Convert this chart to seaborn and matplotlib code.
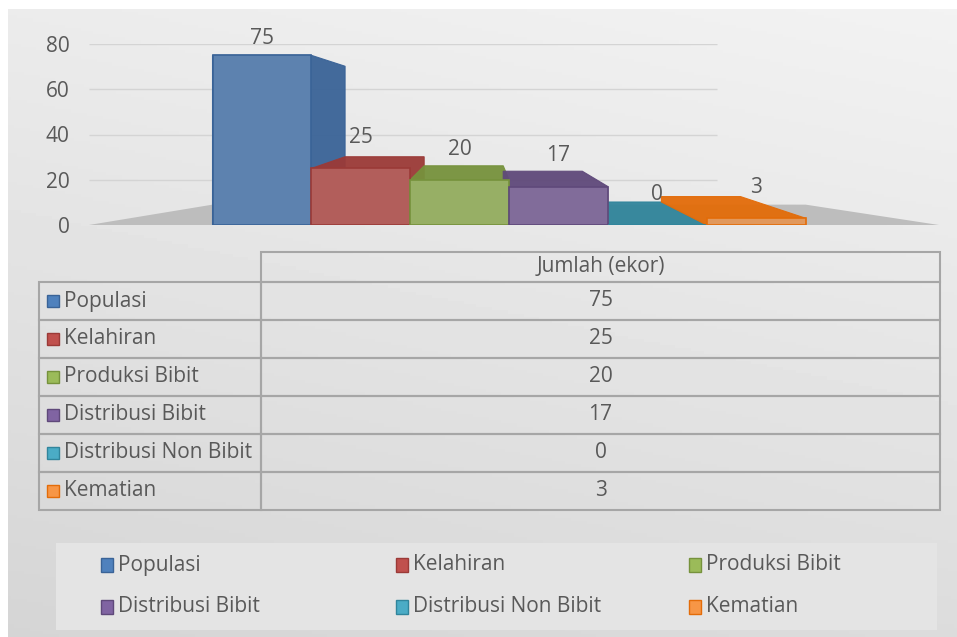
import numpy as np
import pandas as pd
import matplotlib
matplotlib.use("Agg")
import matplotlib.pyplot as plt
import seaborn as sns
from matplotlib.patches import Rectangle, Polygon

categories = ["Populasi", "Kelahiran", "Produksi Bibit", "Distribusi Bibit",
              "Distribusi Non Bibit", "Kematian"]
values = [75, 25, 20, 17, 0, 3]
column_header = "Jumlah (ekor)"
y_ticks = [0, 20, 40, 60, 80]
colors = ["#4f81bd", "#c0504d", "#9bbb59", "#8064a2", "#4bacc6", "#f79646"]
edge_colors = ["#3a6397", "#9b3a37", "#76923c", "#5f497a", "#31859c", "#e36c09"]

sns.set_theme(style="white")
plt.rcParams["font.family"] = ["Open Sans", "DejaVu Sans"]
TXT = "#595959"
FS = 15

W, H = 957, 637
fig = plt.figure(figsize=(W / 100, H / 100), dpi=100)
fig.patch.set_facecolor("white")

def px(x0, y0, x1, y1):
    return [x0 / W, 1 - y1 / H, (x1 - x0) / W, (y1 - y0) / H]

def hull(points):
    pts = sorted(set(map(tuple, points)))
    if len(pts) <= 2:
        return pts
    def cross(o, a, b):
        return (a[0] - o[0]) * (b[1] - o[1]) - (a[1] - o[1]) * (b[0] - o[0])
    lower, upper = [], []
    for p in pts:
        while len(lower) >= 2 and cross(lower[-2], lower[-1], p) <= 0:
            lower.pop()
        lower.append(p)
    for p in reversed(pts):
        while len(upper) >= 2 and cross(upper[-2], upper[-1], p) <= 0:
            upper.pop()
        upper.append(p)
    return lower[:-1] + upper[:-1]

# background with soft gradient
bg = fig.add_axes(px(8, 9, 957, 637))
yy, xx = np.mgrid[0:1:200j, 0:1:300j]
grad = 0.95 - 0.11 * (yy * 0.8 + (1 - xx) * 0.25)
bg.imshow(grad, cmap="gray", vmin=0, vmax=1, aspect="auto", extent=[0, 1, 0, 1])
bg.set_xlim(0, 1); bg.set_ylim(0, 1)
bg.axis("off")

# bar chart
df = pd.DataFrame({"cat": categories, "val": values})
ax = fig.add_axes(px(85, 44, 940, 225))
ax.set_facecolor("none")
ax.patch.set_alpha(0)
ax.set_xlim(-1.79, 6.86)
ax.set_ylim(0, 80)
# floor
ax.add_patch(Polygon([(-1.75, 0), (6.85, 0), (5.5, 9), (-0.5, 9)], closed=True,
                     facecolor="#bdbdbd", edgecolor="none", zorder=0))
sns.barplot(data=df, x="cat", y="val", hue="cat", palette=colors, width=1.0,
            legend=False, ax=ax, zorder=3)
ax.set_xlim(-1.79, 6.86)
ax.set_ylim(0, 80)
bars = ax.patches[-len(categories):]

# pseudo-3D depth toward a vanishing point (display pixels)
vp = np.array([480.0, H - 110.0])
k = 0.2
to_disp = ax.transData
to_data = ax.transData.inverted()
for p, ec in zip(bars, edge_colors):
    p.set_edgecolor(ec)
    p.set_linewidth(1.2)
    x0, w, h = p.get_x(), p.get_width(), p.get_height()
    front = np.array([[x0, 0], [x0 + w, 0], [x0 + w, h], [x0, h]])
    fd = to_disp.transform(front)
    bd = fd + k * (vp - fd)
    hd = np.array(hull(np.vstack([fd, bd])))
    poly = to_data.transform(hd)
    ax.add_patch(Polygon(poly, closed=True, facecolor=ec, edgecolor=ec,
                         lw=0.8, alpha=0.95, zorder=2))

for p, v in zip(bars, values):
    ax.annotate(str(v), (p.get_x() + p.get_width() / 2, v),
                xytext=(0, 12 if v > 50 else 22),
                textcoords="offset points", ha="center", va="center",
                fontsize=FS, color=TXT)
ax.hlines([20, 40, 60, 80], -1.75, 4.6, color="#d4d4d4", lw=1, zorder=1)
ax.set_yticks(y_ticks)
ax.set_yticklabels([str(t) for t in y_ticks], fontsize=FS, color=TXT)
ax.tick_params(axis="y", length=0, pad=11)
ax.set_xticks([])
ax.set_xlabel(""); ax.set_ylabel("")
for s in ax.spines.values():
    s.set_visible(False)

# data table
tab = fig.add_axes(px(0, 0, W, H))
tab.set_xlim(0, W); tab.set_ylim(H, 0)
tab.axis("off")
line_c = "#a6a6a6"
x_left, x_mid, x_right = 39, 261, 940
y_top = 252
head_h = 30
row_h = 38
# header cell
tab.add_patch(Rectangle((x_mid, y_top), x_right - x_mid, head_h, fill=False,
                        edgecolor=line_c, lw=1.5))
tab.text((x_mid + x_right) / 2, y_top + head_h / 2, column_header, ha="center",
         va="center", fontsize=FS, color=TXT)
for k_, (c, v, col, ec) in enumerate(zip(categories, values, colors, edge_colors)):
    y0 = y_top + head_h + row_h * k_
    tab.add_patch(Rectangle((x_left, y0), x_mid - x_left, row_h, fill=False,
                            edgecolor=line_c, lw=1.5))
    tab.add_patch(Rectangle((x_mid, y0), x_right - x_mid, row_h, fill=False,
                            edgecolor=line_c, lw=1.5))
    tab.add_patch(Rectangle((47, y0 + row_h / 2 - 6), 12, 12, facecolor=col,
                            edgecolor=ec, lw=1))
    tab.text(64, y0 + row_h / 2, c, ha="left", va="center", fontsize=FS, color=TXT)
    tab.text((x_mid + x_right) / 2, y0 + row_h / 2, str(v), ha="center",
             va="center", fontsize=FS, color=TXT)

# legend box
tab.add_patch(Rectangle((56, 543), 881, 87, facecolor="#e4e4e4", edgecolor="none"))
leg_x = [101, 396, 689]
leg_y = [565, 607]
for k_, (c, col, ec) in enumerate(zip(categories, colors, edge_colors)):
    lx = leg_x[k_ % 3]; ly = leg_y[k_ // 3]
    tab.add_patch(Rectangle((lx, ly - 7), 12, 14, facecolor=col, edgecolor=ec, lw=1))
    tab.text(lx + 17, ly, c, ha="left", va="center", fontsize=FS, color=TXT)

fig.savefig("out.png", dpi=100)
